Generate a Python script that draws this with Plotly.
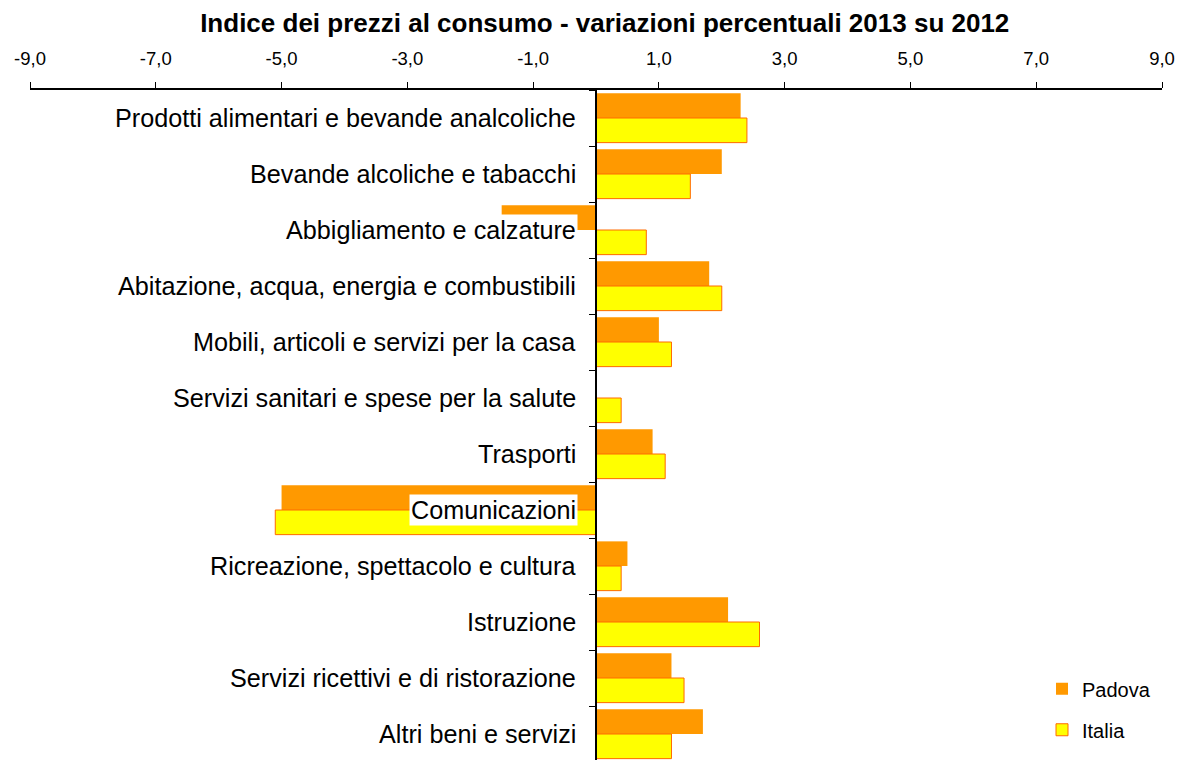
import plotly.graph_objects as go

categories = [
    "Prodotti alimentari e bevande analcoliche",
    "Bevande alcoliche e tabacchi",
    "Abbigliamento e calzature",
    "Abitazione, acqua, energia e combustibili",
    "Mobili, articoli e servizi per la casa",
    "Servizi sanitari e spese per la salute",
    "Trasporti",
    "Comunicazioni",
    "Ricreazione, spettacolo e cultura",
    "Istruzione",
    "Servizi ricettivi e di ristorazione",
    "Altri beni e servizi",
]
padova = [2.3, 2.0, -1.5, 1.8, 1.0, 0.0, 0.9, -5.0, 0.5, 2.1, 1.2, 1.7]
italia = [2.4, 1.5, 0.8, 2.0, 1.2, 0.4, 1.1, -5.1, 0.4, 2.6, 1.4, 1.2]
tick_vals = [-9, -7, -5, -3, -1, 1, 3, 5, 7, 9]
tick_text = ["-9,0", "-7,0", "-5,0", "-3,0", "-1,0", "1,0", "3,0", "5,0", "7,0", "9,0"]

FONT = "Liberation Sans, Arial, sans-serif"

fig = go.Figure()
fig.add_trace(go.Bar(
    y=categories, x=padova, orientation="h", name="Padova",
    marker=dict(color="#FF9900", line=dict(width=0)),
    legendgroup="a",
))
fig.add_trace(go.Bar(
    y=categories, x=italia, orientation="h", name="Italia",
    marker=dict(color="#FFFF00", line=dict(color="#FF6A00", width=1)),
    legendgroup="b",
))

for c in categories:
    fig.add_annotation(
        x=0, y=c, xref="x", yref="y", text=c, showarrow=False,
        xanchor="right", yanchor="middle", xshift=-18,
        font=dict(family=FONT, size=25.2, color="black"),
        bgcolor="white", borderpad=1,
    )

fig.update_layout(
    width=1184, height=760,
    paper_bgcolor="white", plot_bgcolor="white",
    margin=dict(l=22, r=30, t=82, b=6),
    barmode="group", bargap=0.12, bargroupgap=0,
    title=dict(
        text="<b>Indice dei prezzi al consumo - variazioni percentuali 2013 su 2012</b>",
        x=0.504, xanchor="center", y=0.981, yanchor="middle",
        font=dict(family=FONT, size=26, color="black"),
    ),
    xaxis=dict(
        side="top", range=[-9, 9], tickvals=tick_vals, ticktext=tick_text,
        ticks="outside", ticklen=6, tickcolor="black", tickwidth=1,
        showline=True, linecolor="black", linewidth=1.5,
        showgrid=False, zeroline=False,
        tickfont=dict(family=FONT, size=18.5, color="black"),
        ticklabelstandoff=10,
    ),
    yaxis=dict(
        autorange="reversed", anchor="free", position=0.5,
        showticklabels=False, ticks="outside", ticklen=6,
        tickson="boundaries", tickcolor="black",
        showline=True, linecolor="black", linewidth=1.5,
        showgrid=False, zeroline=False,
    ),
    legend=dict(
        x=0.894, y=0.138, xanchor="left", yanchor="top",
        font=dict(family=FONT, size=20, color="black"),
        tracegroupgap=12, bgcolor="rgba(0,0,0,0)",
        itemwidth=30, traceorder="grouped",
    ),
    showlegend=True,
)

fig.write_html("out.html")
